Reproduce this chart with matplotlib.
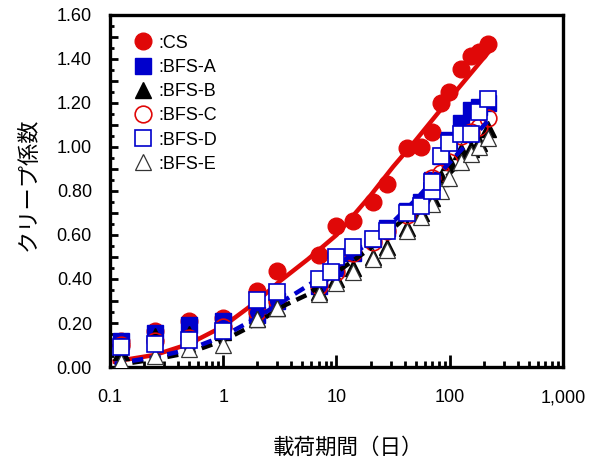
import numpy as np
import matplotlib
matplotlib.use('Agg')
import matplotlib.pyplot as plt
from matplotlib.ticker import MultipleLocator, FuncFormatter, LogLocator, NullFormatter

plt.rcParams['font.family'] = ['Liberation Sans', 'DejaVu Sans']
JP = ['Noto Sans CJK JP', 'DejaVu Sans']

# measured creep coefficients, loading age in days
t = [0.125, 0.25, 0.5, 1, 2, 3, 7, 10, 14, 21, 28, 42, 56, 70, 84, 98, 126, 154, 182, 217]
cs    = [0.12, 0.165, 0.21, 0.225, 0.345, 0.435, 0.51, 0.64, 0.665, 0.75, 0.83,
         0.995, 1.00, 1.07, 1.20, 1.25, 1.355, 1.415, 1.43, 1.47]
bfs_a = [0.12, 0.155, 0.19, 0.21, 0.235, 0.30, 0.37, 0.45, 0.52, 0.58, 0.63,
         0.71, 0.75, 0.85, 0.96, 1.03, 1.11, 1.17, 1.18, 1.20]
bfs_b = [0.07, 0.14, 0.15, 0.16, 0.22, 0.27, 0.34, 0.40, 0.45, 0.50, 0.545,
         0.63, 0.70, 0.77, 0.86, 0.93, 0.98, 0.99, 1.02, 1.08]
bfs_c = [0.10, 0.12, 0.13, 0.18, 0.25, 0.30, 0.37, 0.43, 0.52, 0.57, 0.62,
         0.69, 0.73, 0.86, 0.88, 0.93, 1.05, 1.07, 1.09, 1.13]
bfs_d = [0.09, 0.105, 0.125, 0.165, 0.305, 0.34, 0.40, 0.50, 0.544, 0.583, 0.62,
         0.70, 0.73, 0.80, 0.96, 1.02, 1.06, 1.06, 1.16, 1.22]
bfs_e = [0.025, 0.05, 0.08, 0.10, 0.22, 0.27, 0.33, 0.38, 0.43, 0.49, 0.53,
         0.62, 0.68, 0.74, 0.80, 0.86, 0.93, 0.97, 1.00, 1.04]
t_d_extra, bfs_d_extra = [9, 70], [0.433, 0.84]

# fitted curves
t_fit = [0.11, 0.125, 0.25, 0.5, 1, 2, 3.16, 5.6, 10, 20, 31.6, 50, 100, 219]
fit_cs   = [0.025, 0.03, 0.055, 0.105, 0.185, 0.30, 0.39, 0.49, 0.60, 0.78, 0.91, 1.03, 1.22, 1.43]
fit_blue = [0.015, 0.02, 0.045, 0.08, 0.14, 0.225, 0.29, 0.37, 0.46, 0.57, 0.66, 0.76, 0.93, 1.12]
fit_blk  = [0.008, 0.012, 0.035, 0.065, 0.12, 0.20, 0.27, 0.33, 0.43, 0.54, 0.63, 0.72, 0.88, 1.06]

RED, BLUE = '#e00808', '#0000cc'

fig = plt.figure(figsize=(5.92, 4.68), dpi=100)
ax = fig.add_axes([0.1858, 0.2158, 0.7652, 0.7522])

ms = 12
ax.plot(t, cs, 'o', ms=ms, color=RED, mec=RED, label=':CS', zorder=3)
ax.plot(t_fit, fit_cs, '-', color=RED, lw=3.2, zorder=3)
ax.plot(t, bfs_a, 's', ms=ms, color=BLUE, mec=BLUE, label=':BFS-A', zorder=3)
ax.plot(t, bfs_b, '^', ms=ms, color='black', label=':BFS-B', zorder=3)
ax.plot(t, bfs_c, 'o', ms=ms, mfc='none', mec=RED, mew=1.2, label=':BFS-C', zorder=3)
ax.plot(t_fit, fit_blk, '--', color='black', lw=3.2, dashes=(2.5, 1.5), zorder=3)
ax.plot(t_fit, fit_blue, '--', color=BLUE, lw=3.2, dashes=(2.5, 1.5), zorder=3)
ax.plot(t, bfs_e, '^', ms=ms, mfc='white', mec='#333333', mew=0.9, label=':BFS-E', zorder=4)
ax.plot(t + t_d_extra, bfs_d + bfs_d_extra, 's', ms=ms, mfc='white', mec=BLUE, mew=1.2,
        label=':BFS-D', zorder=4)

ax.set_xscale('log')
ax.set_xlim(0.1, 1000)
ax.set_ylim(0, 1.6)

ax.xaxis.set_major_locator(LogLocator(base=10, numticks=10))
ax.xaxis.set_minor_locator(LogLocator(base=10, subs=np.arange(2, 10), numticks=10))
ax.xaxis.set_minor_formatter(NullFormatter())
ax.xaxis.set_major_formatter(FuncFormatter(lambda v, _: f'{v:,.0f}' if v >= 1 else f'{v:g}'))

ax.yaxis.set_major_locator(MultipleLocator(0.1))
ax.yaxis.set_minor_locator(MultipleLocator(0.05))
ax.yaxis.set_major_formatter(FuncFormatter(
    lambda v, _: f'{v:.2f}' if round(v * 10) % 2 == 0 else ''))

ax.tick_params(axis='x', which='major', direction='in', length=9, width=2, pad=16, labelsize=13)
ax.tick_params(axis='x', which='minor', direction='in', length=4, width=2)
ax.tick_params(axis='y', which='major', direction='in', length=6, width=2, pad=13, labelsize=13)
ax.tick_params(axis='y', which='minor', direction='in', length=3, width=2)
for s in ax.spines.values():
    s.set_linewidth(2.4)

ax.set_xlabel('載荷期間（日）', family=JP, fontsize=15.5)
ax.xaxis.set_label_coords(0.525, -0.197)
ax.set_ylabel('クリープ係数', family=JP, fontsize=16)
ax.yaxis.set_label_coords(-0.155, 0.52)

# legend order as shown
h, l = ax.get_legend_handles_labels()
order = [':CS', ':BFS-A', ':BFS-B', ':BFS-C', ':BFS-D', ':BFS-E']
hd = dict(zip(l, h))
ax.legend([hd[k] for k in order], order, loc='upper left', bbox_to_anchor=(0.025, 0.98),
          frameon=False, fontsize=13, handlelength=1.0, handletextpad=0.35,
          labelspacing=0.4, borderaxespad=0.3, markerscale=1.0)

fig.savefig('out.png', dpi=100)
